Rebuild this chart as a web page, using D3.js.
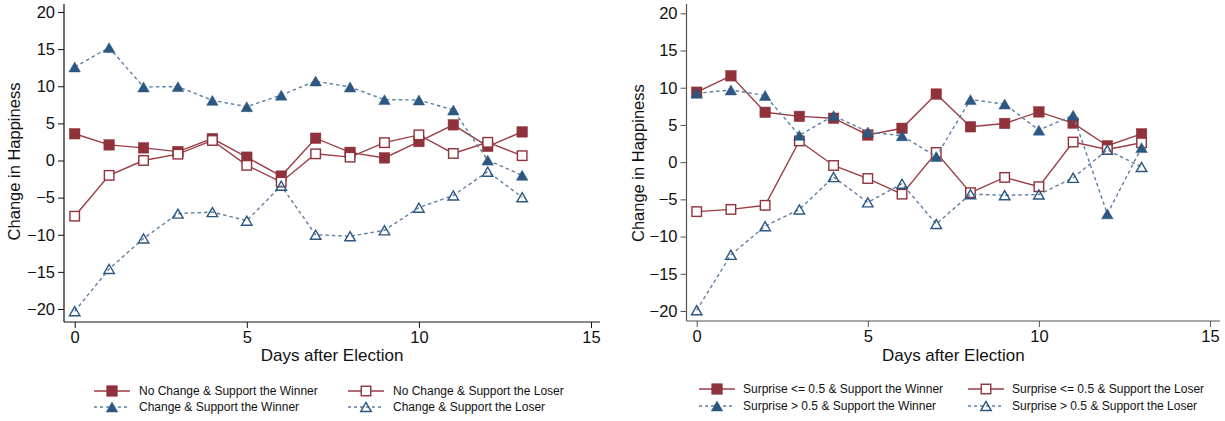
<!DOCTYPE html>
<html>
<head>
<meta charset="utf-8">
<script src="https://cdn.jsdelivr.net/npm/d3@7"></script>
<style>
  body { margin: 0; background: #fff; }
  svg { display: block; font-family: "Liberation Sans", Arial, sans-serif; }
</style>
</head>
<body>
<svg id="chart" width="1225" height="421"></svg>
<script>
// days after the election
const days = [0, 1, 2, 3, 4, 5, 6, 7, 8, 9, 10, 11, 12, 13];
const xTicks = [0, 5, 10, 15];
const yTicks = [-20, -15, -10, -5, 0, 5, 10, 15, 20];

// left panel: status change
const noChangeWinner = [3.6, 2.1, 1.7, 1.2, 2.95, 0.45, -2.1, 3.0, 1.1, 0.35, 2.55, 4.8, 1.9, 3.85];
const noChangeLoser = [-7.5, -2.0, 0.0, 0.85, 2.7, -0.65, -2.9, 0.9, 0.45, 2.4, 3.45, 0.95, 2.45, 0.65];
const changeWinner = [12.6, 15.2, 9.9, 9.95, 8.1, 7.25, 8.8, 10.7, 9.9, 8.2, 8.15, 6.8, 0.05, -2.0];
const changeLoser = [-20.3, -14.6, -10.5, -7.15, -6.95, -8.1, -3.4, -10.0, -10.2, -9.4, -6.35, -4.7, -1.5, -4.95];

// right panel: surprise
const lowSurpriseWinner = [9.4, 11.6, 6.7, 6.15, 5.9, 3.65, 4.55, 9.15, 4.75, 5.2, 6.75, 5.25, 2.2, 3.8];
const lowSurpriseLoser = [-6.65, -6.35, -5.8, 2.85, -0.45, -2.2, -4.3, 1.3, -4.1, -2.05, -3.3, 2.7, 1.7, 2.6];
const highSurpriseWinner = [9.25, 9.7, 8.95, 3.6, 6.25, 4.05, 3.55, 0.75, 8.4, 7.8, 4.3, 6.3, -6.95, 1.95];
const highSurpriseLoser = [-19.9, -12.45, -8.6, -6.35, -2.0, -5.4, -2.9, -8.3, -4.3, -4.45, -4.35, -2.1, 1.65, -0.65];

const leftLabels = ['No Change & Support the Winner', 'No Change & Support the Loser',
	'Change & Support the Winner', 'Change & Support the Loser'];
const rightLabels = ['Surprise <= 0.5 & Support the Winner', 'Surprise <= 0.5 & Support the Loser',
	'Surprise > 0.5 & Support the Winner', 'Surprise > 0.5 & Support the Loser'];

const red = '#90323b';
const redLine = '#9b3d45';
const blue = '#2c5781';
const blueLine = '#5d7fa2';

// marker / line style per series slot
const styles = [
	{ color: red, line: redLine, dash: null, shape: 'square', filled: true },
	{ color: red, line: redLine, dash: null, shape: 'square', filled: false },
	{ color: blue, line: blueLine, dash: '3.5,3', shape: 'triangle', filled: true },
	{ color: blue, line: blueLine, dash: '3.5,3', shape: 'triangle', filled: false },
];

const panels = [
	{
		series: [noChangeWinner, noChangeLoser, changeWinner, changeLoser],
		labels: leftLabels,
		axisX: 64, x0: 74.7, x1: 591, yTop: 12, yBot: 309, axisY: 322, axisRight: 600,
		axisColor: '#111', titleX: 19.5,
		legend: { x1: 94, x2: 130, tx: 139, col2: 254, rows: [391, 407] },
	},
	{
		series: [lowSurpriseWinner, lowSurpriseLoser, highSurpriseWinner, highSurpriseLoser],
		labels: rightLabels,
		axisX: 686.5, x0: 696.7, x1: 1210, yTop: 13.3, yBot: 311, axisY: 321, axisRight: 1220,
		axisColor: '#555', titleX: 643.5,
		legend: { x1: 699, x2: 735, tx: 743, col2: 269, rows: [389, 406] },
	},
];

const svg = d3.select('#chart');

function drawMarker (g, shape, filled, color, cx, cy) {
	if (shape === 'square') {
		const s = filled ? 10.5 : 9.5;
		g.append('rect')
			.attr('x', cx - s / 2)
			.attr('y', cy - s / 2)
			.attr('width', s)
			.attr('height', s)
			.attr('fill', filled ? color : '#fff')
			.attr('stroke', color)
			.attr('stroke-width', filled ? 0.5 : 1.4);
	} else {
		const w = filled ? 11.5 : 10.5;
		const h = w * 0.866;
		g.append('path')
			.attr('d', d3.line()([[cx - w / 2, cy + h / 2], [cx + w / 2, cy + h / 2], [cx, cy - h / 2]]) + 'Z')
			.attr('fill', filled ? color : '#fff')
			.attr('fill-opacity', filled ? 1 : 0)
			.attr('stroke', color)
			.attr('stroke-width', filled ? 0.5 : 1.4);
	}
}

panels.forEach(p => {
	const x = d3.scaleLinear().domain([0, 15]).range([p.x0, p.x1]);
	const y = d3.scaleLinear().domain([-20, 20]).range([p.yBot, p.yTop]);
	const g = svg.append('g');

	// y axis
	const yAxis = g.append('g')
		.attr('transform', `translate(${p.axisX},0)`)
		.call(d3.axisLeft(y).tickValues(yTicks).tickSize(6).tickPadding(3));
	yAxis.select('.domain').remove();
	yAxis.selectAll('.tick line').attr('stroke', p.axisColor);
	yAxis.selectAll('.tick text')
		.attr('font-size', 16.5)
		.attr('fill', '#111')
		.attr('font-family', '"Liberation Sans", Arial, sans-serif');
	g.append('line')
		.attr('x1', p.axisX).attr('x2', p.axisX)
		.attr('y1', 4).attr('y2', p.axisY)
		.attr('stroke', p.axisColor).attr('stroke-width', 1.2);

	// x axis
	const xAxis = g.append('g')
		.attr('transform', `translate(0,${p.axisY})`)
		.call(d3.axisBottom(x).tickValues(xTicks).tickSize(6).tickPadding(3));
	xAxis.select('.domain').remove();
	xAxis.selectAll('.tick line').attr('stroke', p.axisColor);
	xAxis.selectAll('.tick text')
		.attr('font-size', 16.5)
		.attr('fill', '#111')
		.attr('font-family', '"Liberation Sans", Arial, sans-serif');
	g.append('line')
		.attr('x1', p.axisX).attr('x2', p.axisRight)
		.attr('y1', p.axisY).attr('y2', p.axisY)
		.attr('stroke', p.axisColor).attr('stroke-width', 1.2);

	// titles
	g.append('text')
		.attr('transform', `translate(${p.titleX},${(p.yTop + p.yBot) / 2 + 1}) rotate(-90)`)
		.attr('text-anchor', 'middle')
		.attr('font-size', 16.5)
		.attr('fill', '#111')
		.text('Change in Happiness');
	g.append('text')
		.attr('x', (p.axisX + p.axisRight) / 2)
		.attr('y', 361)
		.attr('text-anchor', 'middle')
		.attr('font-size', 17)
		.attr('fill', '#111')
		.text('Days after Election');

	// series
	const lineGen = d3.line().x((d, i) => x(days[i])).y(d => y(d));
	p.series.forEach((vals, si) => {
		const st = styles[si];
		const sg = g.append('g');
		sg.append('path')
			.attr('d', lineGen(vals))
			.attr('fill', 'none')
			.attr('stroke', st.line)
			.attr('stroke-width', 1.4)
			.attr('stroke-dasharray', st.dash);
		vals.forEach((v, i) => drawMarker(sg, st.shape, st.filled, st.color, x(days[i]), y(v)));
	});

	// legend
	const L = p.legend;
	p.labels.forEach((lab, si) => {
		const st = styles[si];
		const col = si % 2;
		const row = Math.floor(si / 2);
		const ox = col * L.col2;
		const ly = L.rows[row];
		const lg = g.append('g');
		lg.append('line')
			.attr('x1', L.x1 + ox).attr('x2', L.x2 + ox)
			.attr('y1', ly).attr('y2', ly)
			.attr('stroke', st.line)
			.attr('stroke-width', 1.3)
			.attr('stroke-dasharray', st.dash ? '3,3' : null);
		drawMarker(lg, st.shape, st.filled, st.color, (L.x1 + L.x2) / 2 + ox, ly);
		lg.append('text')
			.attr('x', L.tx + ox)
			.attr('y', ly + 4)
			.attr('font-size', 12)
			.attr('fill', '#111')
			.text(lab);
	});
});
</script>
</body>
</html>
